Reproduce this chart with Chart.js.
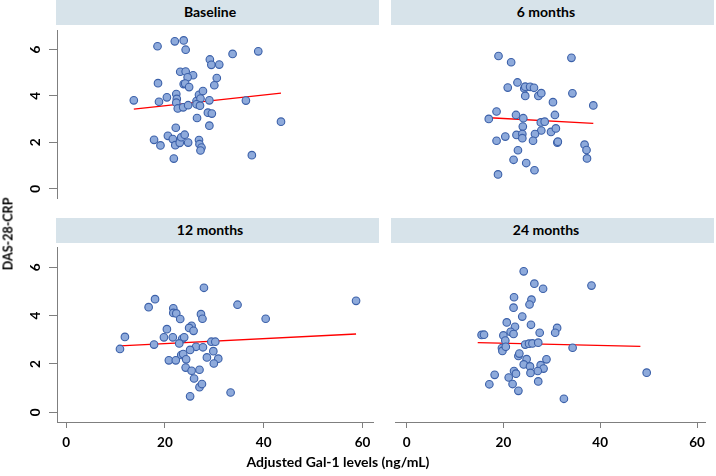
<!DOCTYPE html>
<html>
<head>
<meta charset="utf-8">
<script src="https://cdn.jsdelivr.net/npm/chart.js@4.4.1/dist/chart.umd.min.js"></script>
<style>
  html, body { margin:0; padding:0; background:#fff; }
  #wrap { position:relative; width:716px; height:476px; background:#fff; overflow:hidden; font-family:Lato, "Open Sans", sans-serif; }
  canvas { position:absolute; }
  .strip { position:absolute; background:#d7e3ea; height:25px; }
  .stripText { position:absolute; font-weight:700; font-size:14px; color:#000; line-height:25px; white-space:nowrap; transform:translateX(-50%); }
  #ytitle { position:absolute; left:8px; top:234px; font-weight:700; font-size:12.5px; white-space:nowrap; transform:translate(-50%,-50%) rotate(-90deg); }
  #xtitle { position:absolute; left:338px; top:461px; font-weight:700; font-size:14px; white-space:nowrap; transform:translate(-50%,-50%); }
</style>
</head>
<body>
<div id="wrap">
  <div class="strip" style="left:56px;top:0;width:323px"></div>
  <div class="strip" style="left:391px;top:0;width:323px"></div>
  <div class="strip" style="left:56px;top:218px;width:323px"></div>
  <div class="strip" style="left:391px;top:218px;width:323px"></div>
  <div class="stripText" id="t0" style="left:210px;top:-1px"></div>
  <div class="stripText" id="t1" style="left:546px;top:-1px"></div>
  <div class="stripText" id="t2" style="left:210px;top:217px"></div>
  <div class="stripText" id="t3" style="left:546px;top:217px"></div>
  <canvas id="c0" width="378" height="177" style="left:0;top:26px"></canvas>
  <canvas id="c1" width="321" height="177" style="left:391px;top:26px"></canvas>
  <canvas id="c2" width="378" height="233" style="left:0;top:243px"></canvas>
  <canvas id="c3" width="321" height="233" style="left:391px;top:243px"></canvas>
  <div id="ytitle"></div>
  <div id="xtitle"></div>
</div>
<script>
// ---- Data ----
const panelTitles = ["Baseline", "6 months", "12 months", "24 months"];
const xAxisTitle = "Adjusted Gal-1 levels (ng/mL)";
const yAxisTitle = "DAS-28-CRP";
const xTicks = [0, 20, 40, 60];
const yTicks = [0, 2, 4, 6];

const baselineX = [18.5,22.0,23.8,24.2,33.7,38.9,29.1,29.4,31.0,23.1,24.2,25.7,24.6,30.5,18.6,23.8,24.1,24.9,30.0,13.7,18.8,20.4,22.3,22.4,22.3,22.6,23.7,24.7,26.4,26.9,27.7,27.2,26.4,27.1,29.0,36.4,28.7,29.5,26.5,43.5,29.0,22.2,17.8,19.1,20.6,21.6,22.1,23.0,23.3,24.0,24.7,26.9,27.0,27.4,27.2,37.6,21.8];
const baselineY = [6.14,6.35,6.39,5.99,5.81,5.92,5.57,5.34,5.35,5.04,5.05,4.89,4.80,4.77,4.55,4.51,4.53,4.38,4.46,3.81,3.75,3.94,4.08,3.87,3.71,3.46,3.51,3.60,3.78,4.05,4.21,3.89,3.64,3.58,3.81,3.80,3.28,3.24,3.05,2.89,2.72,2.63,2.11,1.87,2.28,2.14,1.88,1.98,2.22,2.33,1.99,2.10,1.92,1.78,1.65,1.45,1.30];
const baselineFitX = [13.7, 43.5];
const baselineFitY = [3.43, 4.12];

const m6X = [18.9,21.5,33.9,22.8,20.8,24.2,24.4,25.4,26.2,24.4,27.1,27.7,34.1,30.1,38.4,18.5,16.9,22.5,24.0,30.5,23.9,27.6,28.4,27.7,29.7,30.7,18.5,20.3,22.6,23.8,23.8,26.4,26.0,31.0,31.1,36.6,37.0,37.1,22.9,22.0,24.6,26.3,18.8];
const m6Y = [5.72,5.45,5.64,4.58,4.36,4.32,4.40,4.39,4.35,4.00,4.00,4.12,4.11,3.73,3.59,3.33,3.01,3.18,3.04,3.18,2.68,2.86,2.89,2.51,2.45,2.60,2.07,2.25,2.32,2.36,2.18,2.36,2.07,1.99,2.03,1.90,1.67,1.31,1.66,1.25,1.11,0.80,0.62];
const m6FitX = [17.1, 38.4];
const m6FitY = [3.06, 2.82];

const m12X = [27.9,18.0,16.7,34.7,58.7,21.7,21.7,22.3,23.1,27.3,27.6,40.4,20.4,25.4,24.9,25.8,11.9,19.8,21.6,23.5,23.9,22.9,10.9,17.8,26.3,27.7,25.1,29.4,30.2,29.8,23.3,23.7,28.5,30.8,20.8,22.2,24.3,29.9,24.2,25.4,27.0,25.9,27.0,27.5,33.3,25.1];
const m12Y = [5.15,4.68,4.35,4.45,4.61,4.30,4.11,4.09,3.86,4.06,3.87,3.87,3.44,3.58,3.49,3.37,3.12,3.10,3.10,3.04,3.10,2.85,2.62,2.80,2.71,2.69,2.58,2.92,2.92,2.53,2.37,2.41,2.27,2.22,2.15,2.15,2.19,2.02,1.85,1.72,1.76,1.40,1.04,1.17,0.82,0.66];
const m12FitX = [10.9, 58.7];
const m12FitY = [2.75, 3.24];

const m24X = [24.2,26.4,28.2,38.2,22.2,25.8,25.4,22.1,23.9,20.7,25.7,22.4,21.5,22.1,27.5,31.1,30.7,15.5,16.0,20.0,20.4,24.5,25.3,26.0,27.2,34.3,19.7,19.8,20.5,23.1,23.3,24.8,28.9,24.2,25.5,27.7,28.3,27.1,25.6,22.2,22.6,18.2,21.1,49.6,17.1,21.9,27.2,23.1,32.5];
const m24Y = [5.83,5.32,5.11,5.24,4.76,4.66,4.46,4.33,3.96,3.72,3.62,3.54,3.33,3.24,3.29,3.49,3.29,3.20,3.21,3.18,2.97,2.80,2.84,2.85,2.88,2.67,2.66,2.54,2.71,2.33,2.43,2.20,2.19,1.98,1.90,1.95,1.81,1.71,1.63,1.71,1.60,1.55,1.44,1.64,1.16,1.17,1.28,0.89,0.56];
const m24FitX = [14.7, 48.3];
const m24FitY = [2.88, 2.73];

// ---- Rendering ----
const FONT = "Lato, 'Open Sans', sans-serif";
const AXIS_COL = '#7f7f7f';

const rotYTicks = {
  id: 'rotYTicks',
  afterDraw(chart, args, opts) {
    if (!opts || !opts.show) return;
    const s = chart.scales.y, ctx = chart.ctx;
    ctx.save();
    ctx.font = "700 13.5px " + FONT;
    ctx.fillStyle = '#000';
    ctx.textAlign = 'center';
    ctx.textBaseline = 'middle';
    yTicks.forEach(v => {
      const py = s.getPixelForValue(v);
      ctx.save();
      ctx.translate(opts.x, py);
      ctx.rotate(-Math.PI / 2);
      ctx.fillText(String(v), 0, 0);
      ctx.restore();
    });
    ctx.restore();
  }
};

function pts(xs, ys) { return xs.map((x, i) => ({ x: x, y: ys[i] })); }

function makePanel(id, xs, ys, fx, fy, showY, showX, xmin, xmax) {
  const ctx = document.getElementById(id);
  new Chart(ctx, {
    type: 'scatter',
    data: {
      datasets: [
        {
          type: 'line',
          data: pts(fx, fy),
          borderColor: '#ff0000',
          borderWidth: 1.3,
          pointRadius: 0,
          fill: false,
          order: 2
        },
        {
          data: pts(xs, ys),
          backgroundColor: '#8eaadb',
          borderColor: '#3b60a9',
          borderWidth: 1.1,
          pointRadius: 3.8,
          pointHoverRadius: 3.8,
          order: 1
        }
      ]
    },
    plugins: [rotYTicks],
    options: {
      responsive: false,
      animation: false,
      devicePixelRatio: 1,
      layout: { padding: 0 },
      plugins: {
        legend: { display: false },
        tooltip: { enabled: false },
        title: { display: false },
        rotYTicks: { show: showY, x: 36 }
      },
      scales: {
        x: {
          type: 'linear',
          display: showX,
          min: xmin, max: xmax,
          afterBuildTicks: s => { s.ticks = xTicks.map(v => ({ value: v })); },
          afterFit: s => { if (showX) s.height = 54; },
          border: { display: true, color: AXIS_COL, width: 1 },
          grid: { drawOnChartArea: false, drawTicks: true, tickLength: 6, color: AXIS_COL },
          ticks: {
            padding: 7,
            color: '#000',
            font: { family: FONT, size: 13.5, weight: '700' },
            maxRotation: 0, minRotation: 0,
            callback: v => String(v)
          }
        },
        y: {
          type: 'linear',
          display: showY,
          min: -0.4, max: 6.8,
          afterBuildTicks: s => { s.ticks = yTicks.map(v => ({ value: v })); },
          afterFit: s => { if (showY) s.width = 57; },
          border: { display: true, color: AXIS_COL, width: 1 },
          grid: { drawOnChartArea: false, drawTicks: true, tickLength: 8, color: AXIS_COL },
          ticks: { display: false }
        }
      }
    }
  });
}

document.getElementById('t0').textContent = panelTitles[0];
document.getElementById('t1').textContent = panelTitles[1];
document.getElementById('t2').textContent = panelTitles[2];
document.getElementById('t3').textContent = panelTitles[3];
document.getElementById('xtitle').textContent = xAxisTitle;
document.getElementById('ytitle').textContent = yAxisTitle;

makePanel('c0', baselineX, baselineY, baselineFitX, baselineFitY, true, false, -1.85, 62.15);
makePanel('c1', m6X, m6Y, m6FitX, m6FitY, false, false, -2.2, 61.8);
makePanel('c2', m12X, m12Y, m12FitX, m12FitY, true, true, -1.85, 62.15);
makePanel('c3', m24X, m24Y, m24FitX, m24FitY, false, true, -2.2, 61.8);
</script>
</body>
</html>
